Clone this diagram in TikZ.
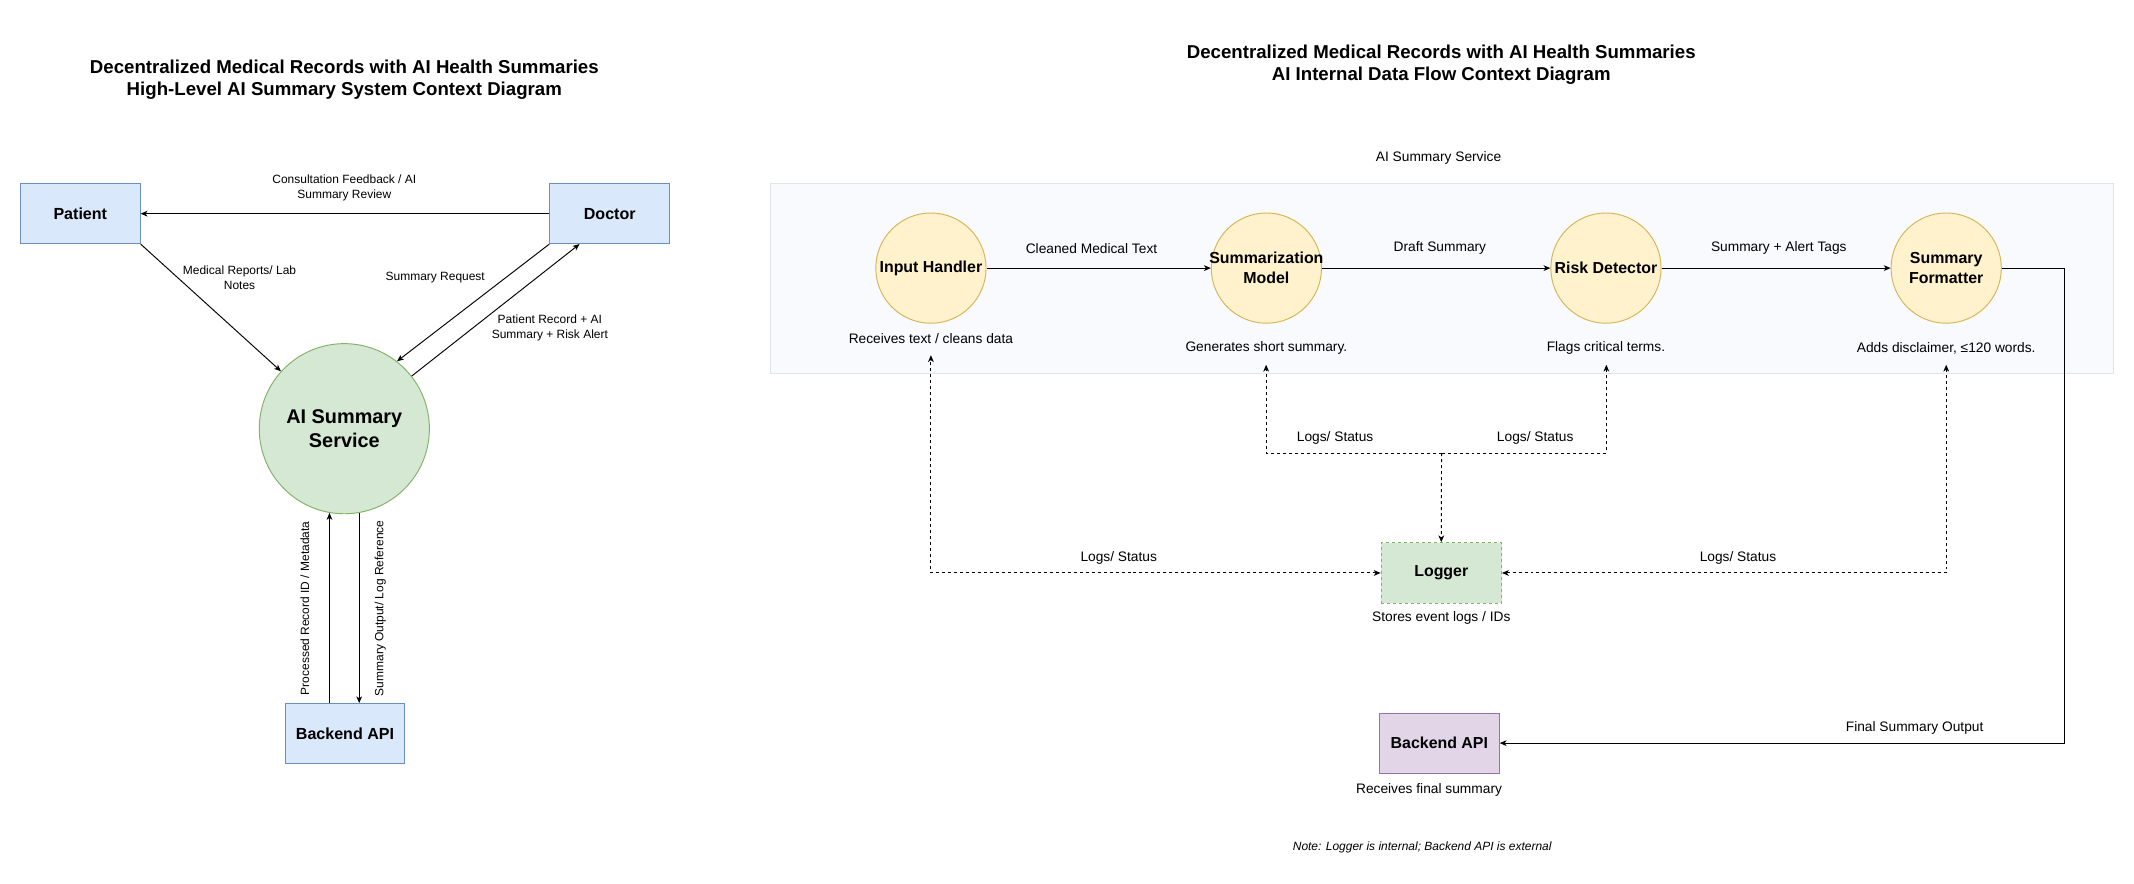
\documentclass[tikz,border=0pt]{standalone}
\usepackage{fontspec}
\setmainfont{Liberation Sans}
\usetikzlibrary{arrows.meta,calc}
\definecolor{bluef}{HTML}{DAE8FC}
\definecolor{blued}{HTML}{6C8EBF}
\definecolor{greenf}{HTML}{D5E8D4}
\definecolor{greend}{HTML}{82B366}
\definecolor{yelf}{HTML}{FFF2CC}
\definecolor{yeld}{HTML}{D6B656}
\definecolor{purf}{HTML}{E1D5E7}
\definecolor{purd}{HTML}{9673A6}
\definecolor{contf}{HTML}{F8FAFD}
\definecolor{contd}{HTML}{DFE5EF}
\begin{document}
\begin{tikzpicture}[x=1pt,y=-1pt,
  ttl/.style={font=\bfseries\fontsize{13.7}{16.6}\selectfont, align=center, inner sep=0},
  lbl/.style={font=\fontsize{8.8}{11}\selectfont, align=center, inner sep=0},
  rlbl/.style={font=\fontsize{10.1}{12}\selectfont, align=center, inner sep=0},
  entity/.style={rectangle, draw=blued, fill=bluef, line width=0.7pt, minimum width=88pt, minimum height=44pt, inner sep=0, font=\bfseries\fontsize{11.8}{14}\selectfont},
  proc/.style={circle, draw=yeld, fill=yelf, line width=0.7pt, minimum size=81pt, inner sep=0},
  ptxt/.style={inner sep=0, align=center, font=\bfseries\fontsize{11.7}{14.7}\selectfont},
  arr/.style={line width=0.7pt, -{Stealth[length=5pt,width=4.2pt,inset=1.4pt]}},
  dsh/.style={line width=0.7pt, dash pattern=on 2.2pt off 2.2pt},
  tip/.style={-{Stealth[length=5pt,width=4.2pt,inset=1.4pt]}},
  tips/.style={{Stealth[length=5pt,width=4.2pt,inset=1.4pt]}-{Stealth[length=5pt,width=4.2pt,inset=1.4pt]}}
]
\useasboundingbox[fill=white] (0,0) rectangle (1568,649.5);

% ---------------- Left diagram ----------------
\node[ttl] (ltitle) at (253,58.5) {Decentralized Medical Records with AI Health Summaries\\High-Level AI Summary System Context Diagram};

\node[entity] (patient) at (59,157) {Patient};
\node[entity] (doctor) at (448,157) {Doctor};
\node[circle, draw=greend, fill=greenf, line width=0.7pt, minimum size=125pt, inner sep=0, align=center,
      font=\bfseries\fontsize{14.6}{17.4}\selectfont] (ai) at (253,315) {AI Summary\\Service};
\node[entity] (backL) at (253.5,539) {Backend API};

\coordinate (docin) at ($(doctor.south west)!0.25!(doctor.south east)$);

\draw[arr] (doctor.west) -- (patient.east);
\draw[arr] (patient.south east) -- (ai);
\draw[arr] (doctor.south west) -- (ai.52);
\draw[arr] (ai.38) -- (docin);
\draw[arr] (backL.north -| ai.260) -- (ai.260);
\draw[arr] (ai.280) -- (ai.280 |- backL.north);

\node[lbl] (l1) at (253,138.3) {Consultation Feedback / AI\\Summary Review};
\node[lbl] (l2) at (176,204.4) {Medical Reports/ Lab\\Notes};
\node[lbl] (l3) at (319.8,204) {Summary Request};
\node[lbl] (l4) at (404,241.1) {Patient Record + AI\\Summary + Risk Alert};
\node[lbl, rotate=90] (l5) at (224,447) {Processed Record ID / Metadata};
\node[lbl, rotate=90] (l6) at (279.5,447) {Summary Output/ Log Reference};

% ---------------- Right diagram ----------------
\node[ttl] (rtitle) at (1059,47.5) {Decentralized Medical Records with AI Health Summaries\\AI Internal Data Flow Context Diagram};
\node[rlbl] (svc) at (1057,116) {AI Summary Service};

\node[rectangle, draw=contd, fill=contf, line width=0.7pt, minimum width=986.5pt, minimum height=139.6pt, inner sep=0] (cont) at (1059.3,204.5) {};

\node[proc] (ih) at (684,197) {};
\node[proc] (sm) at (930.5,197) {};
\node[proc] (rd) at (1180,197) {};
\node[proc] (sf) at (1430,197) {};
\node[ptxt] (iht) at (ih) {Input Handler};
\node[ptxt] (smt) at (sm) {Summarization\\Model};
\node[ptxt] (rdt) at (rd) {Risk Detector};
\node[ptxt] (sft) at (sf) {Summary\\Formatter};

\node[rlbl] (dih) at (684,248.6) {Receives text / cleans data};
\node[rlbl] (dsm) at (930.5,256) {Generates short summary.};
\node[rlbl] (drd) at (1180,256) {Flags critical terms.};
\node[rlbl] (dsf) at (1430,256) {Adds disclaimer, ≤120 words.};

\draw[arr] (ih) -- (sm);
\draw[arr] (sm) -- (rd);
\draw[arr] (rd) -- (sf);
\node[rlbl] (a1) at (802,182.5) {Cleaned Medical Text};
\node[rlbl] (a2) at (1058,182.5) {Draft Summary};
\node[rlbl] (a3) at (1307,182.5) {Summary + Alert Tags};

\node[rectangle, draw=greend, fill=greenf, dsh, minimum width=88.5pt, minimum height=44.5pt, inner sep=0,
      font=\bfseries\fontsize{11.7}{14}\selectfont] (logger) at (1059,421) {Logger};
\node[rlbl] (dlog) at (1059,454.3) {Stores event logs / IDs};

\node[rectangle, draw=purd, fill=purf, line width=0.7pt, minimum width=88pt, minimum height=44pt, inner sep=0,
      font=\bfseries\fontsize{11.7}{14}\selectfont] (backR) at (1057.6,546) {Backend API};
\node[rlbl] (dback) at (1050,580.5) {Receives final summary};

\coordinate (ihc) at (684,261);
\coordinate (smc) at (930.3,268);
\coordinate (rdc) at (1180.3,268);
\coordinate (sfc) at (1430,268);
\coordinate (jn) at (1059.2,333);

\draw[dsh, tips] (logger.west) -| (ihc);
\draw[dsh, tips] (logger.east) -| (sfc);
\draw[dsh, tip] (jn) -- (logger.north);
\draw[dsh, tip] (jn) -| (smc);
\draw[dsh, tip] (jn) -| (rdc);

\node[rlbl] (s1) at (822,410.2) {Logs/ Status};
\node[rlbl] (s2) at (981,322) {Logs/ Status};
\node[rlbl] (s3) at (1128,322) {Logs/ Status};
\node[rlbl] (s4) at (1277,410.2) {Logs/ Status};

\draw[arr] (sf.east) -- ++(46,0) |- (backR.east);
\node[rlbl] (fso) at (1406.8,535) {Final Summary Output};

\node[lbl, font=\itshape\fontsize{8.8}{11}\selectfont] (note) at (1045,623) {Note: Logger is internal; Backend API is external};
\end{tikzpicture}
\end{document}
